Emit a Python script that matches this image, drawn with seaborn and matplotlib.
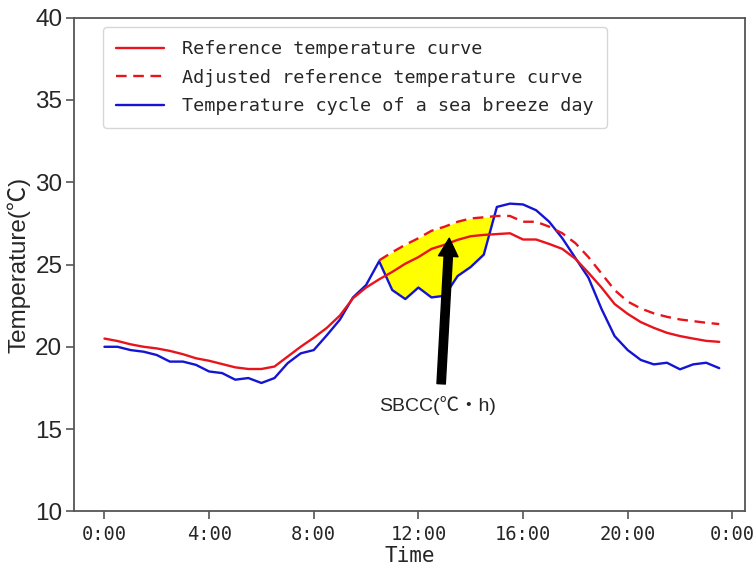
import numpy as np
import pandas as pd
import matplotlib
matplotlib.use("Agg")
import matplotlib.pyplot as plt
import seaborn as sns

# Half-hourly time axis (hours since midnight)
hours = np.arange(48) * 0.5

# Reference temperature curve (°C)
reference = [20.5, 20.35, 20.15, 20.0, 19.9, 19.75, 19.55, 19.3, 19.15, 18.95,
             18.75, 18.65, 18.65, 18.8, 19.4, 20.0, 20.55, 21.15, 21.9, 22.95,
             23.6, 24.1, 24.55, 25.05, 25.45, 25.95, 26.2, 26.5, 26.72, 26.8,
             26.85, 26.9, 26.52, 26.52, 26.25, 25.95, 25.35, 24.5, 23.6, 22.6,
             22.0, 21.5, 21.15, 20.85, 20.65, 20.5, 20.36, 20.3]

# Adjusted reference curve, from 10:30 onwards
adjusted_start = 10.5
adjusted = [25.25, 25.75, 26.2, 26.6, 27.05, 27.3, 27.6, 27.8, 27.87, 27.95,
            27.95, 27.6, 27.6, 27.3, 26.9, 26.3, 25.45, 24.45, 23.45, 22.75,
            22.33, 22.03, 21.82, 21.66, 21.56, 21.46, 21.38]

# Observed temperature on a sea breeze day
sea_breeze = [20.0, 20.0, 19.8, 19.7, 19.5, 19.1, 19.1, 18.9, 18.5, 18.4,
              18.0, 18.1, 17.8, 18.1, 19.0, 19.6, 19.8, 20.7, 21.65, 23.0,
              23.75, 25.2, 23.45, 22.9, 23.6, 23.0, 23.1, 24.3, 24.85, 25.6,
              28.5, 28.7, 28.65, 28.3, 27.6, 26.6, 25.4, 24.2, 22.3, 20.65,
              19.8, 19.2, 18.93, 19.03, 18.63, 18.93, 19.03, 18.7]

sbcc_end = 15.0

tick_hours = [0, 4, 8, 12, 16, 20, 24]
tick_labels = ["0:00", "4:00", "8:00", "12:00", "16:00", "20:00", "0:00"]

legend_labels = ["Reference temperature curve",
                 "Adjusted reference temperature curve",
                 "Temperature cycle of a sea breeze day"]

sns.set_style("ticks")
plt.rcParams["font.family"] = ["Liberation Sans", "Noto Sans CJK SC", "DejaVu Sans"]
mono = ["DejaVu Sans Mono", "Noto Sans CJK SC"]
sans = ["Liberation Sans", "Noto Sans CJK SC", "DejaVu Sans"]

fig = plt.figure(figsize=(7.56, 5.68), dpi=100)
ax = fig.add_axes([0.098, 0.0998, 0.888, 0.869])

adj_hours = hours[hours >= adjusted_start]
df_ref = pd.DataFrame({"t": hours, "v": reference})
df_adj = pd.DataFrame({"t": adj_hours, "v": adjusted})
df_sea = pd.DataFrame({"t": hours, "v": sea_breeze})

# Sea breeze cooling area between adjusted curve and observation
blue_part = np.array(sea_breeze)[hours >= adjusted_start]
adj_arr = np.array(adjusted)
mask = (adj_arr >= blue_part) & (adj_hours <= sbcc_end)
ax.fill_between(adj_hours, blue_part, adj_arr, where=mask, interpolate=True,
                color="#ffff00", linewidth=0, zorder=1)

sns.lineplot(data=df_ref, x="t", y="v", ax=ax, color="#e8141c", lw=1.7,
             label=legend_labels[0], zorder=3)
sns.lineplot(data=df_adj, x="t", y="v", ax=ax, color="#e8141c", lw=1.7,
             linestyle=(0, (4.5, 2.8)), label=legend_labels[1], zorder=3)
sns.lineplot(data=df_sea, x="t", y="v", ax=ax, color="#1414d2", lw=1.7,
             label=legend_labels[2], zorder=2)

# Arrow pointing into the SBCC area
ax.annotate("", xy=(13.18, 26.6), xytext=(12.87, 17.75),
            arrowprops=dict(facecolor="black", edgecolor="black", width=6.0,
                            headwidth=14, headlength=13, shrink=0),
            zorder=5)
ax.text(12.74, 16.45, "SBCC(℃・h)", ha="center", va="center",
        fontsize=14, family=sans, zorder=5)

ax.set_xlim(-1.16, 24.5)
ax.set_ylim(10, 40)
ax.set_xticks(tick_hours)
ax.set_xticklabels(tick_labels, family=mono, fontsize=13.5)
ax.set_yticks([10, 15, 20, 25, 30, 35, 40])
ax.tick_params(axis="y", labelsize=17.5, length=6, width=1.2,
               color="#555555", pad=2.5)
ax.tick_params(axis="x", length=6, width=1.2, color="#555555", pad=3.5)
ax.set_xlabel("Time", family=mono, fontsize=15, labelpad=2)
ax.set_ylabel("Temperature(℃)", family=sans, fontsize=17.5, labelpad=3)

for sp in ax.spines.values():
    sp.set_visible(True)
    sp.set_color("#555555")
    sp.set_linewidth(1.3)

leg = ax.legend(loc="upper left", bbox_to_anchor=(0.043, 0.981),
                borderaxespad=0, prop={"family": mono, "size": 13.3},
                handlelength=2.6, frameon=True, borderpad=0.7,
                labelspacing=0.57, handletextpad=1.0)
leg.get_frame().set_edgecolor("#cccccc")

fig.savefig("out.png", dpi=100)
